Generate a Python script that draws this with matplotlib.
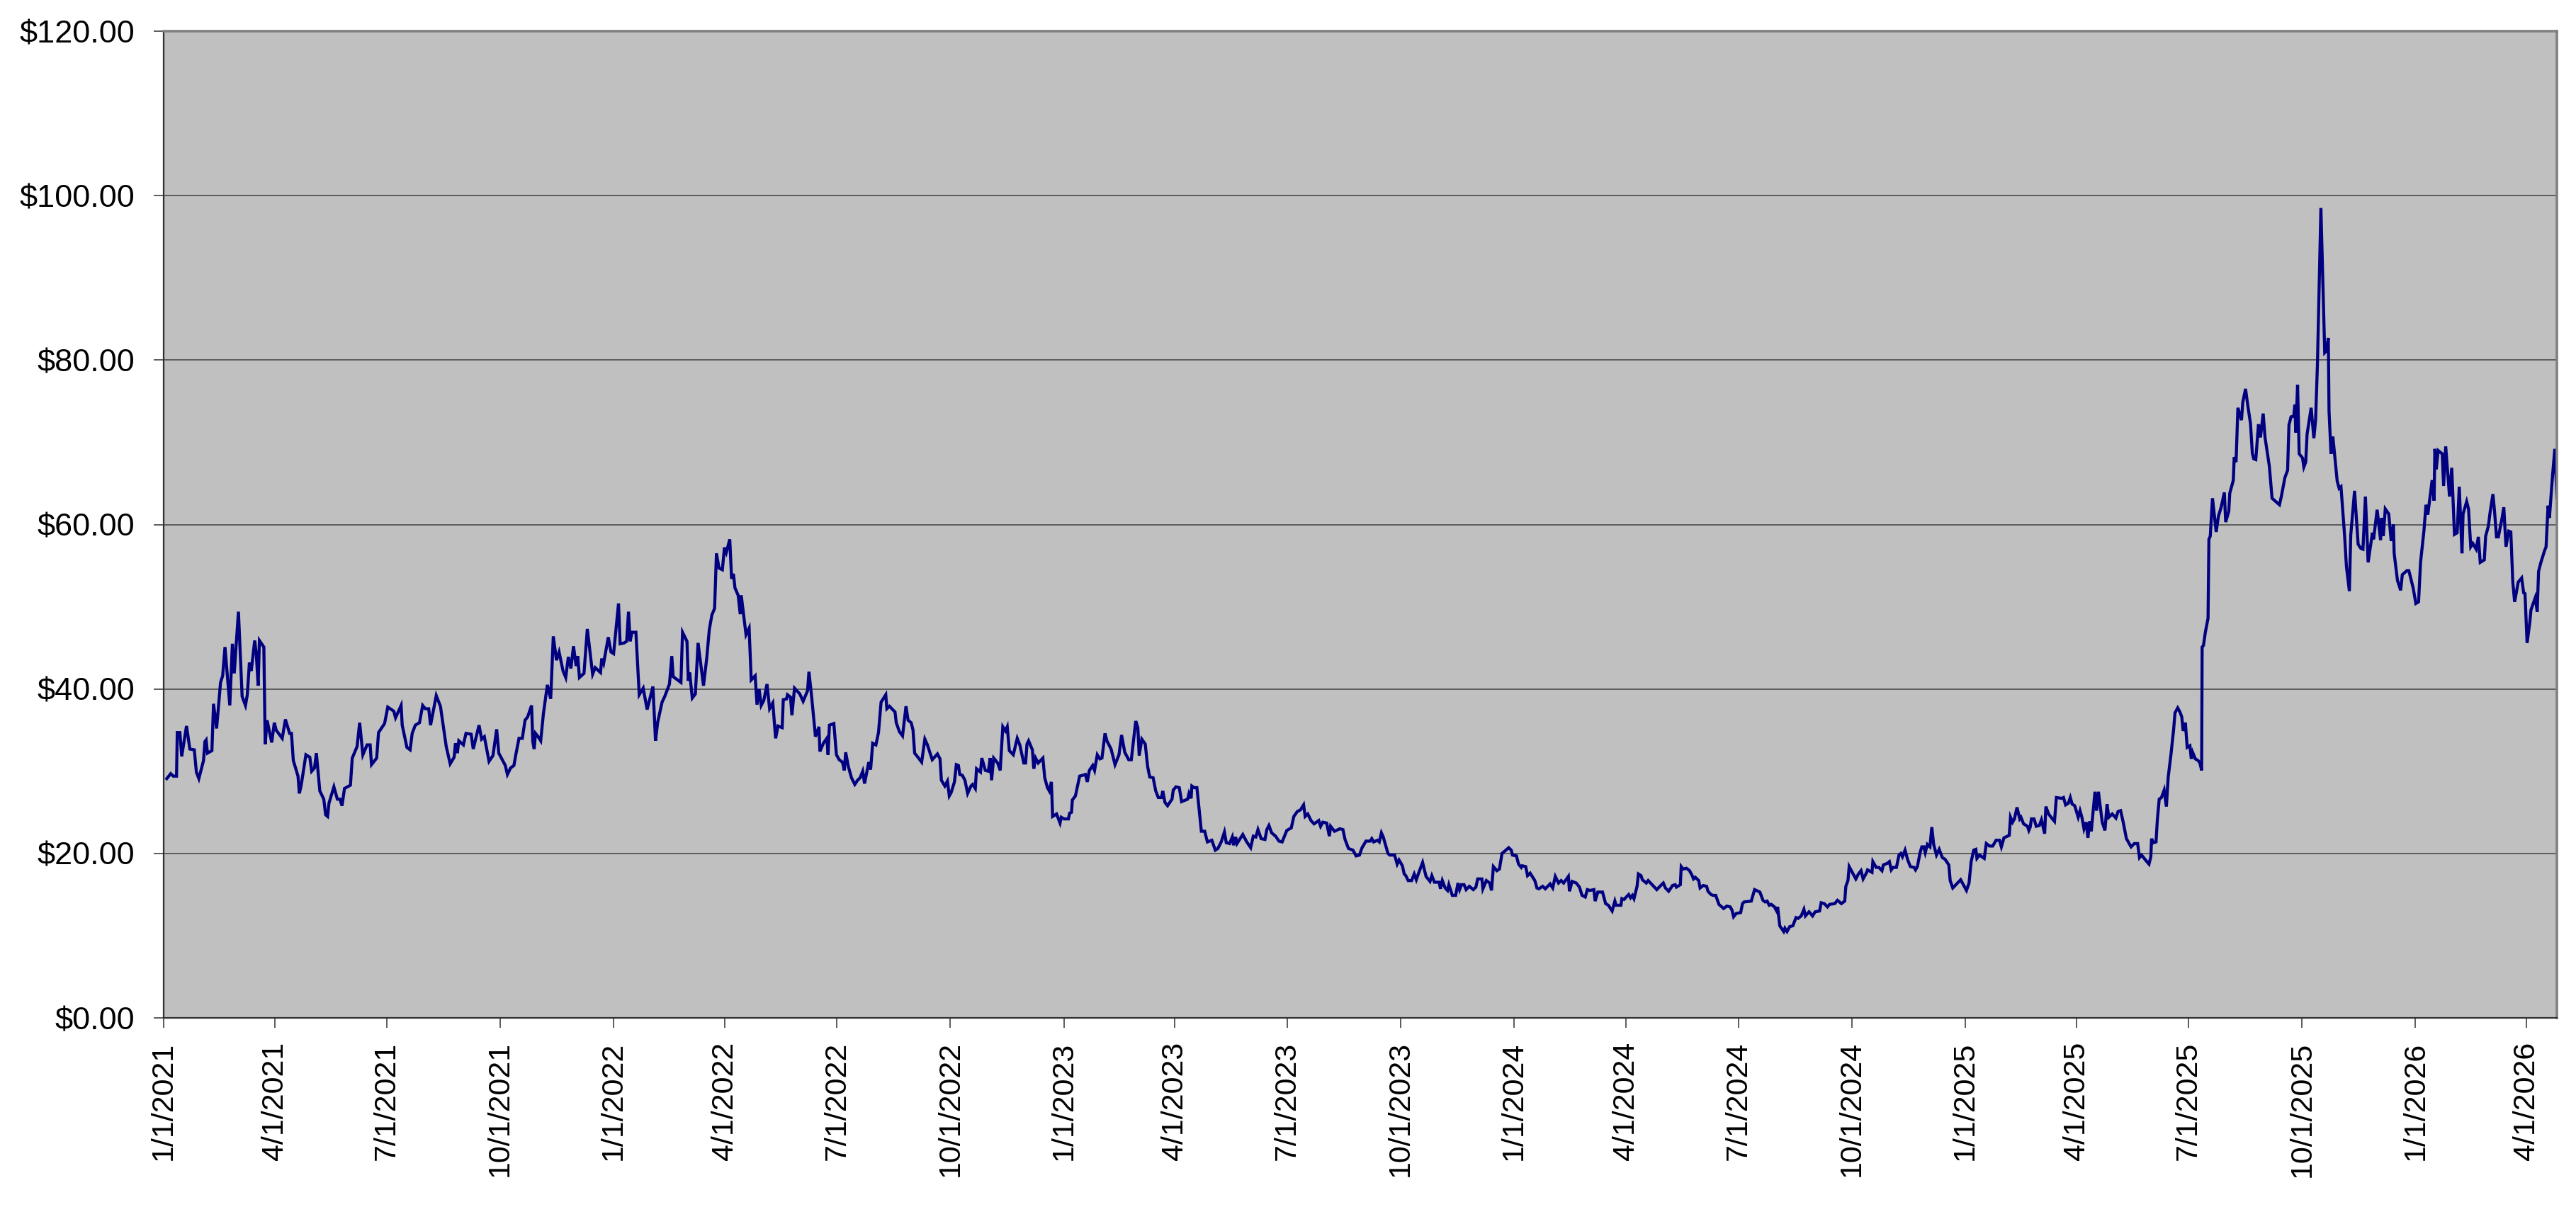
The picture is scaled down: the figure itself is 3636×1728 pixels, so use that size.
import numpy as np
import pandas as pd
import matplotlib
matplotlib.use("Agg")
from matplotlib import pyplot as plt
from matplotlib.ticker import FuncFormatter, MultipleLocator

plt.rcParams['font.family'] = ['Liberation Sans', 'DejaVu Sans']

start = pd.Timestamp('2021-01-01')

# day offset from 1/1/2021 and closing price
day_offset = [
    2.6, 5.8, 7.9, 10.5, 11.1, 13.2, 14.7, 18.6, 21.3, 24.9, 26.6, 28.6, 32.4, 33.5, 34.5, 35.6, 39.2, 40.5, 43.0, 46.2,
    47.9, 49.8, 53.7, 55.8, 57.3, 60.7, 63.7, 66.4, 67.9, 69.6, 71.1, 73.9, 75.2, 76.7, 77.7, 81.3, 82.4, 83.9, 87.7, 89.8,
    91.3, 96.2, 98.8, 102.2, 103.7, 105.2, 109.0, 110.1, 111.6, 115.4, 118.6, 120.1, 122.4, 123.9, 126.7, 129.9, 131.4, 133.0, 134.1, 138.1,
    140.9, 143.0, 144.7, 146.7, 151.5, 153.0, 156.9, 159.0, 161.6, 165.0, 167.5, 168.6, 172.8, 174.3, 179.2, 181.8, 186.7, 188.1, 192.6, 193.5,
    197.3, 199.9, 201.6, 204.1, 207.5, 210.1, 212.2, 215.0, 216.5, 221.1, 224.5, 229.2, 232.4, 235.6, 236.7, 238.2, 239.4, 243.1, 245.2, 249.4,
    251.1, 255.8, 257.9, 260.1, 263.9, 267.1, 270.1, 271.8, 273.9, 277.1, 278.8, 281.4, 284.1, 285.6, 288.2, 290.9, 293.1, 295.2, 298.4, 299.4,
    300.5, 301.6, 303.7, 305.8, 308.0, 311.2, 313.9, 316.0, 318.6, 320.7, 323.9, 326.1, 328.2, 330.3, 332.4,
    334.5, 335.8, 337.2, 340.9, 343.6, 347.9, 350.0, 354.3, 355.3, 356.8, 360.6, 362.8, 364.9, 367.0, 368.9, 370.2, 373.4, 375.5, 377.0, 378.3,
    379.8, 383.0, 385.7, 388.9, 392.1, 396.8, 398.9, 400.6, 404.2, 406.4, 410.2, 412.1, 413.2, 415.9, 419.5, 420.8, 424.4, 425.5, 426.6, 428.7,
    431.2, 433.4, 437.8, 440.4, 442.5, 444.6, 446.8, 448.3, 450.4, 453.1, 454.8, 456.3, 459.1, 460.6, 462.1, 463.3, 465.9, 467.6, 468.4, 472.3,
    474.8, 476.5, 479.7, 481.2, 482.9, 484.6, 486.7, 489.3, 491.4, 494.0, 496.3, 498.2, 501.6, 502.5, 505.2, 505.9, 508.4, 509.5, 511.6, 515.9,
    518.6, 522.2, 523.3, 525.4, 528.6, 531.4, 532.2, 535.0, 537.8, 538.8, 539.9, 543.5, 545.6, 547.8, 550.5, 552.0, 553.1, 555.2, 557.8, 560.5,
    562.7, 564.8, 566.9, 568.4, 571.8, 573.3, 575.0, 577.6, 579.7, 581.8, 583.9, 585.6, 586.5, 588.6, 593.1, 594.1, 596.7, 599.2, 602.0, 603.7,
    606.2, 607.7, 609.0, 612.2, 614.7, 617.3, 619.4, 621.1, 623.3, 627.5, 629.6, 630.7, 633.5, 635.6, 637.1, 638.6, 641.3, 642.8, 644.5, 645.6,
    647.7, 649.8, 652.0, 654.7,
    656.1, 658.2, 659.2, 662.4, 663.5, 666.3, 668.8, 670.3, 671.4, 673.1, 676.3, 678.4, 680.5, 682.6, 684.1, 685.8, 689.0, 692.2, 694.3, 697.5,
    699.0, 700.1, 701.4, 704.5, 705.6, 707.1, 709.2, 713.0, 714.5, 716.7, 718.2, 719.9, 720.9, 724.1, 726.9, 727.9, 730.1, 733.7, 734.7, 736.2,
    736.9, 739.4, 742.8, 747.5, 749.0, 750.7, 753.4, 754.9, 757.1, 759.2, 760.9, 763.4, 764.9, 768.3, 771.5, 774.7, 776.8, 779.4, 782.6, 784.7,
    788.3, 790.0, 791.1, 793.2, 796.0, 797.9, 799.6, 802.4, 804.5, 806.6, 809.2, 810.2, 812.0, 814.1, 817.7, 818.7, 820.9, 823.6, 825.5, 830.4,
    831.5, 833.2, 833.8, 835.7, 837.9, 841.5, 844.2, 846.4, 850.0, 852.8, 854.9, 857.6, 860.2, 861.7, 864.4, 866.6, 867.6, 869.3, 870.4, 875.1,
    878.3, 881.5, 883.6, 885.7, 887.4, 890.0, 893.1, 894.6, 896.3, 898.5, 901.7, 904.4, 907.0, 910.8, 914.4, 916.5, 919.3, 921.9, 924.4, 925.7,
    927.8, 930.4, 932.9, 936.7, 938.2, 940.0, 943.1, 945.3, 946.3, 949.5, 953.8, 956.3, 958.0, 960.8, 964.4, 967.0, 969.7, 971.8, 975.0,
    978.4, 979.7, 981.2, 984.3, 985.8, 987.5, 989.0, 992.8, 994.3, 998.2, 1000.3, 1001.8, 1004.5, 1006.0, 1007.3, 1009.2, 1012.0, 1014.1, 1015.8, 1017.9,
    1020.9, 1023.7, 1026.9, 1028.4, 1030.5, 1034.3, 1035.4, 1036.9, 1039.2, 1041.1, 1042.2, 1045.0, 1047.7, 1049.6, 1050.9, 1052.4, 1054.5, 1056.2, 1058.8, 1062.0,
    1064.1, 1065.6, 1069.0, 1069.8, 1072.6, 1075.3, 1076.8, 1078.3, 1081.1, 1083.2, 1085.3, 1088.5, 1090.7, 1092.8, 1093.8, 1097.0, 1098.7, 1100.9, 1101.7, 1104.5,
    1106.0, 1108.1, 1111.9, 1113.6, 1115.1, 1118.3, 1120.4, 1124.3, 1126.4, 1128.5, 1131.1, 1133.2, 1135.3, 1139.1, 1140.0, 1142.1, 1145.5, 1148.1, 1150.2, 1152.8,
    1154.5, 1156.6, 1159.8, 1160.8, 1163.0, 1166.8, 1169.3, 1171.5, 1174.6, 1176.8, 1177.8, 1181.7, 1182.5, 1184.2, 1188.0, 1189.5, 1191.0, 1192.3, 1194.8, 1195.9,
    1198.0, 1199.1, 1202.3, 1203.8, 1207.6, 1210.8, 1214.0, 1216.1, 1217.8, 1220.4, 1223.6, 1225.7, 1226.7, 1229.9, 1230.6, 1232.1, 1234.8, 1237.4, 1239.5, 1240.6,
    1242.0, 1244.8, 1245.9, 1248.4, 1251.2, 1252.3, 1254.8, 1256.5, 1258.6, 1261.2, 1265.0, 1267.6, 1270.3, 1271.8, 1273.1, 1275.2, 1278.8, 1280.3, 1281.6, 1287.4,
    1290.1, 1294.4, 1296.9, 1298.6,
    1300.3, 1302.0, 1303.7, 1306.2, 1308.0, 1308.8, 1310.5, 1313.7, 1314.7, 1316.4, 1318.6, 1321.1, 1323.7, 1325.4, 1327.9, 1330.1, 1331.3, 1334.3, 1337.1, 1339.2,
    1342.8, 1344.1, 1346.6, 1349.2, 1350.9, 1355.1, 1357.3, 1360.5, 1363.2, 1364.1, 1365.8, 1366.8, 1372.2, 1374.3, 1376.4, 1378.1, 1380.7, 1381.7, 1385.3, 1386.0,
    1388.7, 1390.9, 1393.4, 1394.5, 1397.7, 1399.4, 1400.9, 1402.4, 1405.1, 1407.2, 1408.7, 1410.0, 1412.1, 1414.3, 1416.4, 1419.4, 1420.6, 1422.1, 1424.3, 1425.7,
    1427.4, 1428.5, 1430.2, 1432.3, 1433.8, 1435.3, 1437.6, 1439.8, 1442.3, 1444.5, 1447.6, 1448.7, 1450.8, 1457.2, 1461.9, 1464.0, 1465.7, 1467.8, 1469.5, 1470.4,
    1472.5, 1476.3, 1478.0, 1480.6, 1483.2, 1485.9, 1488.7, 1490.2, 1492.3, 1496.6, 1497.6, 1499.3, 1500.8, 1502.9, 1505.1, 1506.1, 1508.2, 1511.4, 1512.5, 1513.6,
    1514.6, 1516.7, 1518.5, 1521.0, 1522.7, 1525.3, 1526.3, 1528.5, 1531.6, 1533.3, 1534.8, 1539.1, 1540.6, 1542.3, 1544.5, 1546.1, 1547.6, 1549.7, 1552.5, 1554.0,
    1555.5, 1557.2, 1558.9, 1560.4, 1561.8, 1563.1, 1566.1, 1567.4, 1568.9, 1572.0, 1574.2, 1575.9, 1577.3, 1580.1, 1583.1, 1584.8, 1586.9, 1589.0, 1591.6, 1595.4,
    1598.0, 1600.7, 1602.2, 1603.9, 1607.1, 1609.9, 1611.4, 1612.0, 1613.5, 1615.6, 1616.7,
    1618.2, 1620.0, 1622.2, 1624.0, 1625.5, 1627.7, 1629.9, 1631.0, 1633.2, 1635.0, 1636.5, 1637.6, 1639.4, 1640.9, 1643.1, 1644.2, 1645.3, 1647.5, 1649.7, 1651.2,
    1652.6, 1653.0, 1654.1, 1655.6, 1657.8, 1658.5, 1659.6, 1661.4, 1664.4, 1666.2, 1668.4, 1671.0, 1672.1, 1674.6, 1675.4, 1678.3, 1679.0, 1680.5, 1682.0, 1684.9,
    1686.0, 1688.2, 1689.9, 1692.2, 1693.7, 1694.8, 1696.5, 1698.7, 1700.3, 1702.5, 1704.0, 1707.5, 1709.7, 1713.5, 1715.7, 1717.2, 1720.1, 1722.3, 1723.4, 1725.1,
    1727.3, 1728.2, 1728.9, 1730.4, 1731.7, 1734.4, 1735.5, 1737.0, 1738.1, 1741.4, 1743.6, 1745.0, 1746.5, 1749.3, 1752.4, 1753.7, 1755.3, 1755.9, 1757.5, 1759.0,
    1762.5, 1764.1, 1765.6, 1768.5, 1770.0, 1772.4, 1773.5, 1776.6, 1779.5, 1781.7, 1783.4, 1785.4, 1787.6, 1791.1, 1792.0, 1794.9, 1797.7, 1798.6, 1799.9, 1801.5,
    1804.3, 1806.3, 1808.1, 1808.7, 1811.4, 1814.0, 1815.3, 1819.1, 1820.6, 1824.1, 1826.3, 1828.5, 1830.1, 1832.9, 1834.5, 1836.0, 1839.5, 1841.1, 1841.7, 1842.8,
    1844.4, 1847.7, 1848.8, 1850.5, 1853.6, 1855.4, 1857.6, 1859.8, 1861.5, 1863.7, 1864.6, 1867.5, 1869.0, 1870.8, 1872.5, 1875.2, 1877.0, 1878.5, 1881.8, 1882.9,
    1885.1, 1886.6, 1888.8, 1890.1, 1891.7, 1893.2, 1896.1, 1897.6, 1899.4, 1901.6, 1903.3, 1904.9, 1906.4, 1909.3, 1912.1, 1913.7, 1914.8, 1916.5, 1918.7, 1919.6,
    1923.1, 1924.7, 1925.8, 1927.5, 1930.6, 1931.9, 1933.5, 1934.6, 1937.2, 1939.0, 1940.7,
]

price = [
    29.1, 29.7, 29.4, 29.4, 34.7, 34.7, 31.8, 35.5, 32.7, 32.6, 29.9, 29.1, 31.3, 33.6, 33.8, 32.2, 32.5, 38.2, 35.2, 40.8,
    41.6, 45.1, 38.0, 45.5, 41.9, 49.4, 39.1, 38.0, 39.3, 43.2, 42.2, 45.9, 44.2, 40.4, 45.9, 45.1, 33.3, 36.2, 33.5, 35.9,
    35.0, 34.0, 36.3, 34.6, 34.6, 31.3, 29.4, 27.3, 28.3, 32.0, 31.7, 30.0, 30.4, 32.2, 27.6, 26.6, 24.7, 24.5, 26.1, 28.1,
    26.6, 26.6, 25.8, 27.9, 28.3, 31.6, 33.0, 35.9, 32.0, 33.2, 33.2, 30.8, 31.6, 34.7, 35.8, 37.8, 37.3, 36.5, 38.0, 35.6,
    32.9, 32.6, 34.6, 35.6, 35.9, 38.0, 37.6, 37.6, 35.6, 39.2, 37.9, 33.0, 30.9, 31.7, 33.4, 32.2, 33.7, 33.2, 34.6, 34.5,
    32.7, 35.6, 33.9, 34.2, 31.2, 31.9, 35.1, 32.2, 31.6, 30.7, 29.6, 30.4, 30.7, 32.0, 34.0, 34.0, 36.2, 36.6, 38.0, 33.6,
    32.7, 34.6, 34.2, 33.7, 37.0, 40.5, 38.8, 46.4, 43.5, 44.5, 42.2, 41.4, 43.9, 42.5, 45.2,
    42.8, 44.0, 41.4, 41.9, 47.3, 41.8, 42.6, 42.0, 43.7, 43.1, 46.3, 44.5, 44.3, 47.5, 50.4, 45.5, 45.6, 45.8, 49.4, 45.8,
    46.9, 46.9, 39.3, 40.1, 37.5, 40.3, 33.7, 35.9, 38.4, 39.1, 40.6, 44.0, 41.5, 41.2, 40.8, 46.9, 45.8, 41.0, 42.0, 38.9,
    39.4, 45.6, 40.4, 43.7, 47.2, 49.0, 49.8, 56.5, 54.7, 54.5, 57.2, 56.6, 58.2, 53.4, 54.0, 52.3, 51.4, 49.1, 51.4, 46.6,
    47.4, 41.1, 41.6, 38.1, 40.0, 38.0, 38.6, 40.6, 37.6, 38.3, 34.0, 35.5, 35.3, 38.7, 38.8, 39.3, 39.0, 36.8, 40.1, 39.4,
    38.5, 39.8, 42.1, 39.2, 34.2, 35.4, 32.4, 33.4, 34.0, 32.0, 35.6, 35.8, 32.0, 31.4, 31.1, 30.1, 32.3, 30.6, 29.2, 28.4,
    28.9, 29.2, 30.0, 28.5, 31.1, 30.2, 33.4, 33.2, 34.7, 38.4, 38.9, 39.3, 37.6, 37.9, 37.2, 35.9, 34.8, 34.3, 37.9, 36.2,
    35.9, 35.0, 32.2, 31.6, 31.1, 33.9, 33.2, 32.4, 31.4, 32.1, 31.5, 28.9, 28.2, 28.8, 27.0, 27.4, 28.7, 30.8, 30.7, 29.6,
    29.5, 28.9, 27.3, 28.2,
    28.4, 27.9, 30.3, 29.9, 31.6, 30.1, 30.0, 31.6, 28.9, 31.6, 31.0, 30.1, 35.4, 34.9, 35.4, 32.5, 32.0, 34.0, 33.2, 31.0,
    31.0, 33.3, 33.7, 32.6, 30.3, 31.6, 31.0, 31.6, 29.2, 28.0, 27.6, 28.7, 24.5, 24.8, 23.7, 24.4, 24.2, 24.2, 24.9, 25.0,
    26.5, 27.0, 29.4, 29.6, 28.7, 30.1, 30.7, 30.1, 32.0, 31.5, 31.6, 34.6, 33.7, 32.7, 30.8, 32.0, 34.4, 32.3, 31.4, 31.4,
    36.1, 35.3, 31.9, 33.9, 33.3, 30.6, 29.3, 29.2, 27.6, 26.8, 26.8, 27.6, 26.2, 25.8, 26.6, 27.7, 28.1, 28.0, 26.3, 26.6,
    27.3, 26.7, 28.2, 28.0, 28.0, 22.7, 22.7, 21.4, 21.6, 20.4, 20.6, 21.4, 22.6, 21.3, 21.2, 22.0, 21.0, 22.0, 21.2, 22.3,
    21.4, 20.7, 22.1, 22.0, 22.9, 21.8, 21.7, 22.9, 23.4, 22.5, 22.1, 21.5, 21.4, 22.8, 23.1, 24.5, 25.1, 25.3, 25.9, 24.5,
    24.8, 24.0, 23.6, 24.0, 23.3, 23.8, 23.7, 22.1, 23.3, 22.7, 23.0, 22.9, 21.7, 20.6, 20.4, 19.7, 19.8, 20.7, 21.5,
    21.5, 21.8, 21.4, 21.6, 21.4, 22.5, 22.0, 20.0, 19.8, 19.8, 18.7, 19.2, 18.5, 17.5, 17.3, 16.7, 16.7, 17.5, 16.8, 17.7,
    18.9, 17.2, 16.6, 17.3, 16.5, 16.5, 15.7, 16.7, 15.8, 15.5, 16.2, 14.9, 14.9, 16.4, 15.6, 16.2, 16.2, 15.6, 16.0, 15.6,
    15.9, 16.9, 16.9, 15.7, 16.7, 16.4, 15.5, 18.4, 17.9, 18.1, 20.0, 20.4, 20.7, 20.4, 19.8, 19.7, 18.7, 18.3, 18.5, 18.4,
    17.3, 17.6, 16.7, 15.8, 15.7, 16.0, 15.7, 16.3, 15.8, 17.2, 16.4, 16.7, 16.4, 17.2, 15.4, 16.6, 16.4, 15.9, 14.9, 14.7,
    15.6, 15.5, 15.6, 14.2, 15.3, 15.3, 13.9, 13.7, 13.0, 14.2, 13.7, 13.7, 14.5, 14.4, 15.0, 14.6, 14.9, 14.5, 16.0, 17.5,
    17.3, 16.8, 16.4, 16.7, 16.1, 15.6, 16.1, 16.4, 15.8, 15.4, 16.1, 16.2, 15.9, 16.2, 18.4, 18.1, 18.2, 17.9, 17.3, 16.9,
    17.1, 16.7, 15.8, 16.1, 16.0, 15.4, 15.0, 14.9, 14.9, 13.8, 13.3, 13.6, 13.5, 13.1, 12.3, 12.7, 12.8, 13.9, 14.1, 14.2,
    15.6, 15.3, 14.3, 14.1,
    14.2, 13.7, 13.8, 13.5, 13.0, 13.5, 11.2, 10.5, 10.9, 10.5, 11.1, 11.2, 12.2, 12.1, 12.4, 13.2, 12.4, 12.9, 12.4, 12.9,
    13.0, 14.0, 13.9, 13.5, 13.8, 13.9, 14.3, 13.9, 14.2, 16.0, 16.7, 18.4, 16.9, 17.5, 17.9, 16.9, 17.6, 18.0, 17.7, 19.0,
    18.3, 18.3, 17.9, 18.6, 18.8, 19.0, 18.0, 18.3, 18.3, 19.8, 20.0, 19.6, 20.4, 19.2, 18.4, 18.3, 18.0, 18.4, 20.1, 20.8,
    20.8, 20.1, 21.1, 20.8, 23.2, 21.1, 19.8, 20.5, 19.5, 19.3, 18.6, 16.7, 15.8, 16.8, 15.5, 16.4, 19.0, 20.4, 20.5, 19.4,
    19.8, 19.4, 21.2, 20.9, 20.9, 21.6, 21.6, 20.8, 21.9, 22.2, 24.4, 23.8, 24.2, 25.6, 24.2, 24.4, 23.6, 23.3, 22.8, 23.2,
    24.2, 24.2, 23.3, 23.4, 24.1, 22.4, 25.7, 24.8, 24.2, 23.9, 26.8, 26.7, 26.8, 25.9, 26.1, 26.8, 26.0, 25.8, 24.4, 25.2,
    24.4, 23.0, 23.8, 21.9, 23.9, 22.7, 27.5, 25.2, 27.5, 23.8, 22.8, 26.0, 24.4, 24.8, 24.3, 25.1, 25.2, 23.8, 21.8, 20.8,
    21.2, 21.2, 19.5, 19.8, 19.2, 18.7, 19.6, 21.8, 21.3, 21.4, 24.1,
    26.6, 26.8, 27.7, 25.7, 29.3, 32.0, 35.1, 37.1, 37.7, 37.2, 36.6, 34.9, 35.9, 32.9, 33.1, 31.5, 32.3, 31.5, 31.3, 31.0,
    30.1, 45.1, 45.3, 46.9, 48.6, 58.2, 58.6, 63.2, 59.1, 61.0, 62.1, 63.9, 60.3, 61.6, 63.8, 65.4, 68.2, 67.6, 74.2, 72.7,
    74.9, 76.5, 74.6, 72.3, 68.7, 68.0, 67.9, 72.2, 70.6, 73.5, 70.6, 67.1, 63.2, 62.7, 62.4, 63.4, 65.7, 66.6, 72.1, 73.1,
    73.2, 74.6, 71.2, 77.0, 68.6, 68.1, 67.0, 67.6, 71.0, 74.2, 70.5, 72.7, 79.5, 98.5, 80.9, 81.1, 82.7, 73.8, 68.6, 70.7,
    65.3, 64.4, 64.6, 58.7, 54.9, 51.9, 58.7, 64.1, 57.6, 57.1, 57.0, 63.4, 55.4, 59.0, 58.2, 61.8, 58.1, 60.8, 58.6, 61.9,
    61.3, 58.0, 60.0, 56.5, 53.2, 52.0, 53.9, 54.4, 54.4, 52.3, 50.4, 50.6, 55.4, 59.3, 62.4, 61.2, 65.4, 62.9, 69.2, 66.7,
    69.0, 68.6, 64.7, 69.5, 63.4, 66.9, 58.8, 59.0, 64.6, 56.5, 61.3, 62.8, 61.9, 57.3, 57.7, 57.0, 58.5, 55.4, 55.7, 58.6,
    59.8, 61.6, 63.7, 61.6, 58.5, 58.5, 60.7, 62.1, 57.3, 59.2, 59.1, 53.0, 50.6, 53.0, 53.5, 51.7, 51.6, 45.6, 48.1, 49.6,
    51.1, 49.4, 54.3, 55.3, 56.8, 57.3, 62.3, 60.8, 66.1, 69.2, 63.2,
]

y_ticks = [0, 20, 40, 60, 80, 100, 120]
x_tick_dates = pd.date_range('2021-01-01', '2026-04-01', freq='QS')

dates = start + pd.to_timedelta(day_offset, unit='D')

fig = plt.figure(figsize=(36.36, 17.28), dpi=100)
ax = fig.add_axes([0.0635, 0.1684, 0.9291, 0.8061])
ax.set_facecolor('#C0C0C0')

ax.plot(dates, price, color='#000080', linewidth=3.1, solid_joinstyle='miter')

ax.set_xlim(start, dates[-1])
ax.set_ylim(0, 120)
ax.set_yticks(y_ticks)
ax.yaxis.set_major_formatter(FuncFormatter(lambda v, p: f"${v:.2f}"))
ax.set_xticks(x_tick_dates)
ax.set_xticklabels([f"{d.month}/{d.day}/{d.year}" for d in x_tick_dates], rotation=90)

ax.grid(axis='y', color='#5c5c5c', linewidth=1.4)
ax.set_axisbelow(True)

ax.tick_params(axis='y', direction='out', length=10, width=1.2, color='#404040',
               labelsize=32.5, pad=19)
ax.tick_params(axis='x', direction='out', length=10, width=1.2, color='#404040',
               labelsize=31, pad=14)

for side in ['top', 'right']:
    ax.spines[side].set_color('#808080')
    ax.spines[side].set_linewidth(2.6)
for side in ['left', 'bottom']:
    ax.spines[side].set_color('#303030')
    ax.spines[side].set_linewidth(1.6)

fig.savefig('out.png', dpi=100, facecolor='white')
